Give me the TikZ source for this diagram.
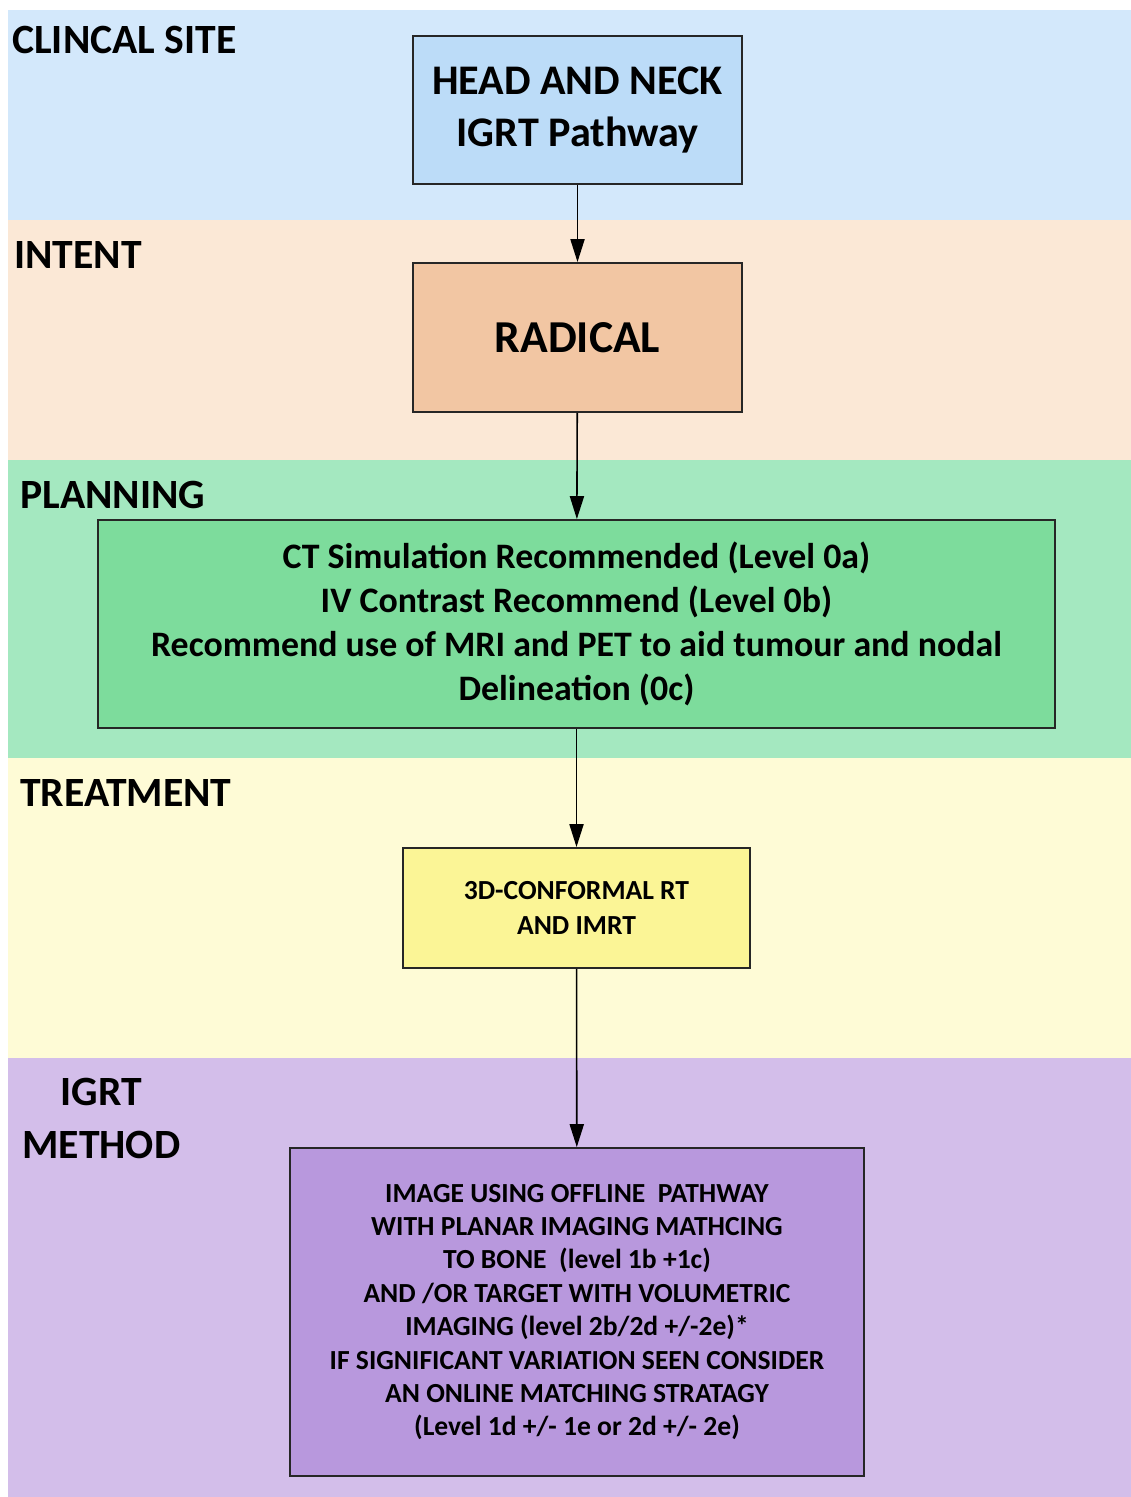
\documentclass[tikz,border=0pt]{standalone}
\usepackage{fontspec}
\setmainfont{Carlito}
\usetikzlibrary{arrows.meta}
\definecolor{siteband}{HTML}{D3E8FB}
\definecolor{sitebox}{HTML}{BCDCF8}
\definecolor{intentband}{HTML}{FBE8D6}
\definecolor{intentbox}{HTML}{F2C6A3}
\definecolor{planband}{HTML}{A4E8C0}
\definecolor{planbox}{HTML}{7DDC9C}
\definecolor{treatband}{HTML}{FEFBD6}
\definecolor{treatbox}{HTML}{FBF596}
\definecolor{igrtband}{HTML}{D3BEEA}
\definecolor{igrtbox}{HTML}{B898DD}
\tikzset{
  stage/.style={draw=black!85, line width=1.1pt, inner sep=0pt, align=center, font=\bfseries},
  bandlabel/.style={anchor=north west, inner sep=0pt, align=center, font=\bfseries\fontsize{23.7}{30}\selectfont},
  flow/.style={-{Triangle[length=13pt,width=8pt]}, line width=0.9pt}
}
\begin{document}
\begin{tikzpicture}[x=0.02cm, y=-0.02cm]
        \useasboundingbox (0,0) rectangle (1131,1497);
        % bands
        \fill[siteband] (8,10) rectangle (1131,220);
        \fill[intentband] (8,220) rectangle (1131,460);
        \fill[planband] (8,460) rectangle (1131,758);
        \fill[treatband] (8,758) rectangle (1131,1058);
        \fill[igrtband] (8,1058) rectangle (1131,1497);
        % band labels
        \node[bandlabel] (lsite) at (12,26) {CLINCAL SITE};
        \node[bandlabel] (lintent) at (14,241) {INTENT};
        \node[bandlabel] (lplan) at (20,481) {PLANNING};
        \node[bandlabel] (ltreat) at (20,779) {TREATMENT};
        \node[bandlabel] (ligrt) at (22,1078) {IGRT\\METHOD};
        % boxes
        \node[stage, fill=sitebox, minimum width=6.58cm, minimum height=2.96cm,
              font=\bfseries\fontsize{24}{30}\selectfont] (site) at (577.5,110) {\raisebox{-3pt}{HEAD AND NECK}\\\raisebox{-3pt}{IGRT Pathway}};
        \node[stage, fill=intentbox, minimum width=6.58cm, minimum height=2.98cm,
              font=\bfseries\fontsize{26}{28}\selectfont] (intent) at (577.5,337.5) {RADICAL};
        \node[stage, fill=planbox, minimum width=19.14cm, minimum height=4.16cm,
              font=\bfseries\fontsize{20.4}{25}\selectfont] (plan) at (576.5,624)
              {CT Simulation Recommended (Level 0a)\\IV Contrast Recommend (Level 0b)\\
               Recommend use of MRI and PET to aid tumour and nodal\\Delineation (0c)};
        \node[stage, fill=treatbox, minimum width=6.94cm, minimum height=2.4cm,
              font=\bfseries\fontsize{15.7}{19.5}\selectfont] (treat) at (576.5,908) {3D-CONFORMAL RT\\AND IMRT};
        \node[stage, fill=igrtbox, minimum width=11.48cm, minimum height=6.56cm,
              font=\bfseries\fontsize{15.7}{19}\selectfont] (igrt) at (577,1312)
              {IMAGE USING OFFLINE\ \ PATHWAY\\WITH PLANAR IMAGING MATHCING\\
               TO BONE\ \ (level 1b +1c)\\AND /OR TARGET WITH VOLUMETRIC\\
               IMAGING (level 2b/2d +/-2e)*\\IF SIGNIFICANT VARIATION SEEN CONSIDER\\
               AN ONLINE MATCHING STRATAGY\\(Level 1d +/- 1e or 2d +/- 2e)};
        % connectors
        \draw[flow] (site) -- (intent);
        \draw[flow] (intent) -- (plan);
        \draw[flow] (plan) -- (treat);
        \draw[flow] (treat) -- (igrt);
\end{tikzpicture}
\end{document}
